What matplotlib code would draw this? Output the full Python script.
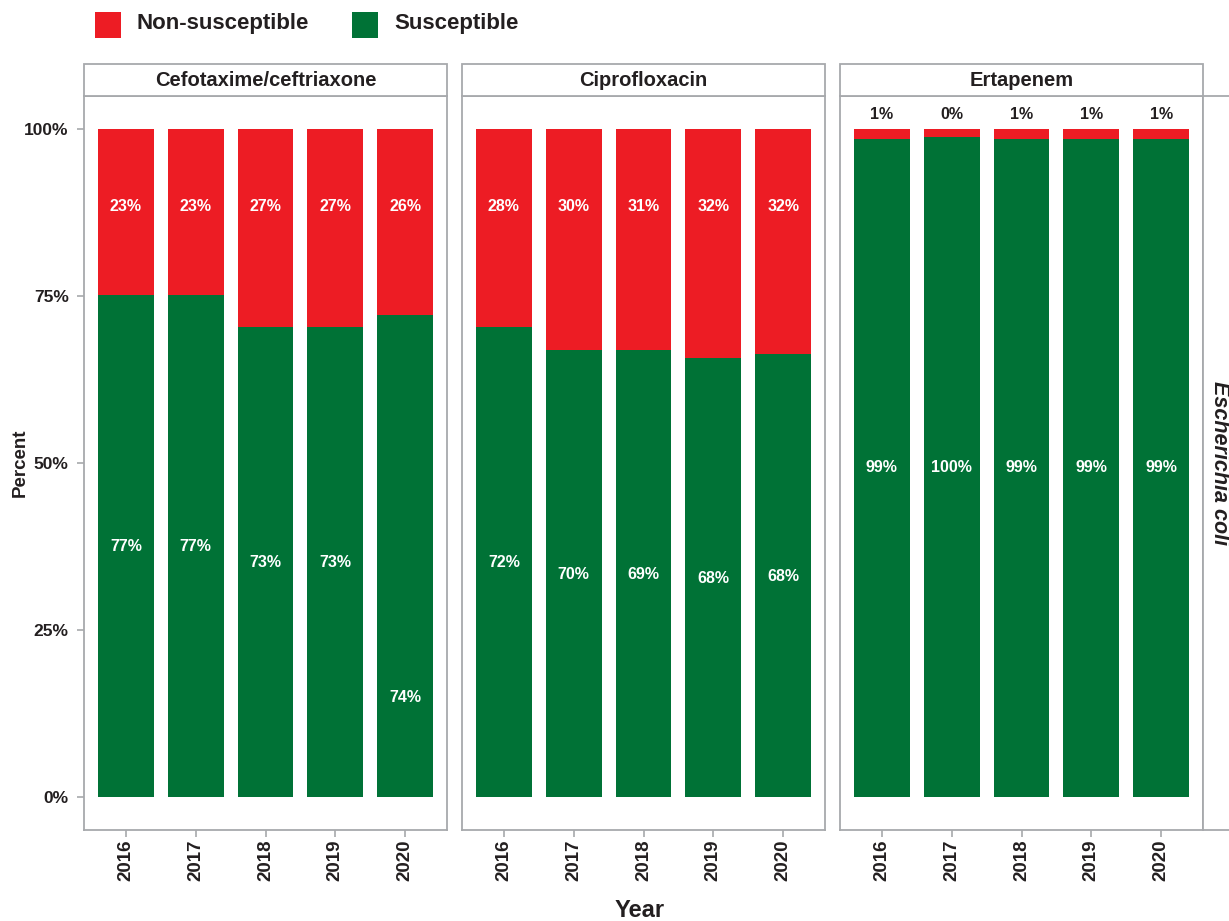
import matplotlib.pyplot as plt
from matplotlib.patches import Rectangle

years = ["2016", "2017", "2018", "2019", "2020"]
drugs = ["Cefotaxime/ceftriaxone", "Ciprofloxacin", "Ertapenem"]
organism = "Escherichia coli"

# bar split (share of bar that is susceptible), as drawn
susc_share = {
    "Cefotaxime/ceftriaxone": [0.752, 0.752, 0.704, 0.704, 0.722],
    "Ciprofloxacin": [0.704, 0.669, 0.669, 0.657, 0.663],
    "Ertapenem": [0.985, 0.988, 0.985, 0.985, 0.985],
}
# printed labels
susc_text = {
    "Cefotaxime/ceftriaxone": ["77%", "77%", "73%", "73%", "74%"],
    "Ciprofloxacin": ["72%", "70%", "69%", "68%", "68%"],
    "Ertapenem": ["99%", "100%", "99%", "99%", "99%"],
}
nonsusc_text = {
    "Cefotaxime/ceftriaxone": ["23%", "23%", "27%", "27%", "26%"],
    "Ciprofloxacin": ["28%", "30%", "31%", "32%", "32%"],
    "Ertapenem": ["1%", "0%", "1%", "1%", "1%"],
}
# where the labels sit on the percent scale
susc_label_y = {
    "Cefotaxime/ceftriaxone": [0.375, 0.375, 0.351, 0.351, 0.149],
    "Ciprofloxacin": [0.351, 0.333, 0.333, 0.327, 0.330],
    "Ertapenem": [0.493, 0.493, 0.493, 0.493, 0.493],
}
nonsusc_label_y = {
    "Cefotaxime/ceftriaxone": [0.884] * 5,
    "Ciprofloxacin": [0.884] * 5,
    "Ertapenem": [1.022] * 5,
}

RED = "#ED1C24"
GREEN = "#007236"
GREY = "#A7A9AC"
INK = "#231F20"
W, H = 1229, 921

plt.rcParams["font.family"] = ["Liberation Sans", "DejaVu Sans"]
plt.rcParams["font.weight"] = "bold"

fig = plt.figure(figsize=(W / 100, H / 100), dpi=100)

panel_left = [84, 462, 840]
panel_w = 363
top, bottom = 96, 830
strip_h = 32


def fx(px):
    return px / W


def fy(py):
    return 1 - py / H


for i, drug in enumerate(drugs):
    ax = fig.add_axes([fx(panel_left[i]), fy(bottom), fx(panel_w), (bottom - top) / H])
    xs = range(len(years))
    s = susc_share[drug]
    ns = [1 - v for v in s]
    ax.bar(xs, s, width=0.8, color=GREEN)
    ax.bar(xs, ns, width=0.8, bottom=s, color=RED)
    for x in xs:
        ax.text(x, susc_label_y[drug][x], susc_text[drug][x], ha="center", va="center",
                color="white", fontsize=11.5, fontweight="bold")
        col = INK if nonsusc_label_y[drug][x] > 1 else "white"
        ax.text(x, nonsusc_label_y[drug][x], nonsusc_text[drug][x], ha="center", va="center",
                color=col, fontsize=11.5, fontweight="bold")
    ax.set_xlim(-0.6, 4.6)
    ax.set_ylim(-0.05, 1.05)
    ax.set_xticks(list(xs))
    ax.set_xticklabels(years, rotation=90, fontsize=13.5, fontweight="bold", color=INK)
    ax.set_yticks([0, 0.25, 0.5, 0.75, 1.0])
    if i == 0:
        ax.set_yticklabels(["0%", "25%", "50%", "75%", "100%"], fontsize=12.5,
                           fontweight="bold", color=INK)
        ax.tick_params(axis="y", length=5, width=1.2, color=GREY, pad=6)
    else:
        ax.tick_params(axis="y", left=False, labelleft=False)
    ax.tick_params(axis="x", length=5, width=1.2, color=GREY, pad=2)
    for sp in ax.spines.values():
        sp.set_color(GREY)
        sp.set_linewidth(1.3)

    # strip on top
    fig.patches.append(Rectangle((fx(panel_left[i]), fy(top)), fx(panel_w), strip_h / H,
                                 transform=fig.transFigure, facecolor="white",
                                 edgecolor=GREY, linewidth=1.3))
    fig.text(fx(panel_left[i] + panel_w / 2), fy(top - strip_h / 2), drug, ha="center",
             va="center", fontsize=14.5, fontweight="bold", color=INK)

# right strip with organism
fig.patches.append(Rectangle((fx(panel_left[2] + panel_w), fy(bottom)), fx(40),
                             (bottom - top) / H, transform=fig.transFigure,
                             facecolor="white", edgecolor=GREY, linewidth=1.3))
fig.text(fx(1219), fy((top + bottom) / 2), organism, rotation=-90, ha="center",
         va="center", fontsize=15.5, fontweight="bold", fontstyle="italic", color=INK)

# axis titles
fig.text(fx(20), fy(463), "Percent", rotation=90, ha="center", va="center",
         fontsize=13.5, fontweight="bold", color=INK)
fig.text(fx(640), fy(910), "Year", ha="center", va="center",
         fontsize=17, fontweight="bold", color=INK)

# legend
for (x0, lab, col) in [(95, "Non-susceptible", RED), (352, "Susceptible", GREEN)]:
    fig.patches.append(Rectangle((fx(x0), fy(38)), fx(26), 26 / H,
                                 transform=fig.transFigure, facecolor=col, edgecolor="none"))
    fig.text(fx(x0 + 42), fy(24), lab, ha="left", va="center", fontsize=16,
             fontweight="bold", color=INK)

fig.savefig("out.png", dpi=100)
